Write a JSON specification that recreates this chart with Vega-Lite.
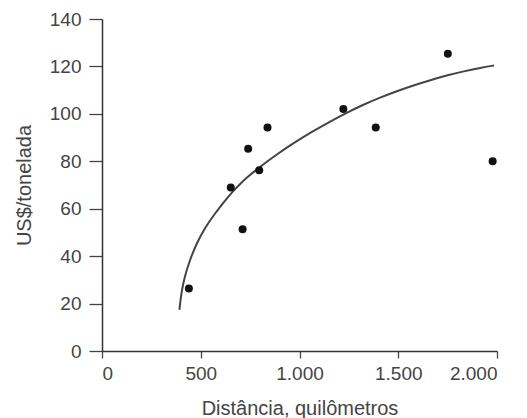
{
  "$schema": "https://vega.github.io/schema/vega-lite/v6.json",
  "autosize": "none",
  "width": 395,
  "height": 332,
  "padding": {"left": 102, "top": 19, "right": 30, "bottom": 67},
  "background": "white",
  "config": {
    "view": {"stroke": null},
    "font": "Liberation Sans",
    "axis": {
      "grid": false,
      "domainColor": "#333333",
      "domainWidth": 1.5,
      "tickColor": "#444444",
      "tickWidth": 1.3,
      "labelColor": "#444444",
      "labelFont": "Liberation Sans",
      "labelFontSize": 19,
      "titleColor": "#444444",
      "titleFont": "Liberation Sans",
      "titleFontSize": 20,
      "titleFontWeight": "normal"
    }
  },
  "datasets": {
    "pontos": [
      {"distancia": 440, "custo": 26.4},
      {"distancia": 652, "custo": 68.9},
      {"distancia": 740, "custo": 85.3},
      {"distancia": 712, "custo": 51.3},
      {"distancia": 796, "custo": 76.2},
      {"distancia": 838, "custo": 94.2},
      {"distancia": 1222, "custo": 102.1},
      {"distancia": 1386, "custo": 94.2},
      {"distancia": 1751, "custo": 125.3},
      {"distancia": 1978, "custo": 80.0}
    ],
    "curva": [
      {"distancia": 392, "custo": 17.3},
      {"distancia": 401, "custo": 24.3},
      {"distancia": 418, "custo": 31.3},
      {"distancia": 445, "custo": 38.4},
      {"distancia": 479, "custo": 45.4},
      {"distancia": 521, "custo": 52.0},
      {"distancia": 572, "custo": 58.0},
      {"distancia": 622, "custo": 63.3},
      {"distancia": 656, "custo": 66.7},
      {"distancia": 700, "custo": 70.6},
      {"distancia": 740, "custo": 73.6},
      {"distancia": 808, "custo": 78.2},
      {"distancia": 876, "custo": 82.4},
      {"distancia": 969, "custo": 87.6},
      {"distancia": 1060, "custo": 92.3},
      {"distancia": 1155, "custo": 96.8},
      {"distancia": 1239, "custo": 100.5},
      {"distancia": 1324, "custo": 103.9},
      {"distancia": 1408, "custo": 106.9},
      {"distancia": 1493, "custo": 109.6},
      {"distancia": 1577, "custo": 112.0},
      {"distancia": 1662, "custo": 114.2},
      {"distancia": 1750, "custo": 116.3},
      {"distancia": 1840, "custo": 118.1},
      {"distancia": 1916, "custo": 119.4},
      {"distancia": 1985, "custo": 120.4}
    ]
  },
  "encoding": {
    "x": {
      "field": "distancia",
      "type": "quantitative",
      "scale": {"domain": [0, 2000], "nice": false},
      "axis": {
        "title": "Distância, quilômetros",
        "values": [0, 500, 1000, 1500, 2000],
        "tickSize": 7,
        "labelPadding": 6,
        "titlePadding": 15,
        "labelExpr": "replace(format(datum.value, ','), ',', '.')"
      }
    },
    "y": {
      "field": "custo",
      "type": "quantitative",
      "scale": {"domain": [0, 140], "nice": false},
      "axis": {
        "title": "US$/tonelada",
        "values": [0, 20, 40, 60, 80, 100, 120, 140],
        "tickSize": 13,
        "labelPadding": 8,
        "titlePadding": 15
      }
    }
  },
  "layer": [
    {
      "data": {"name": "curva"},
      "mark": {"type": "line", "color": "#444444", "strokeWidth": 2, "interpolate": "basis"}
    },
    {
      "data": {"name": "pontos"},
      "mark": {"type": "circle", "color": "#111111", "opacity": 1, "size": 64}
    }
  ]
}
